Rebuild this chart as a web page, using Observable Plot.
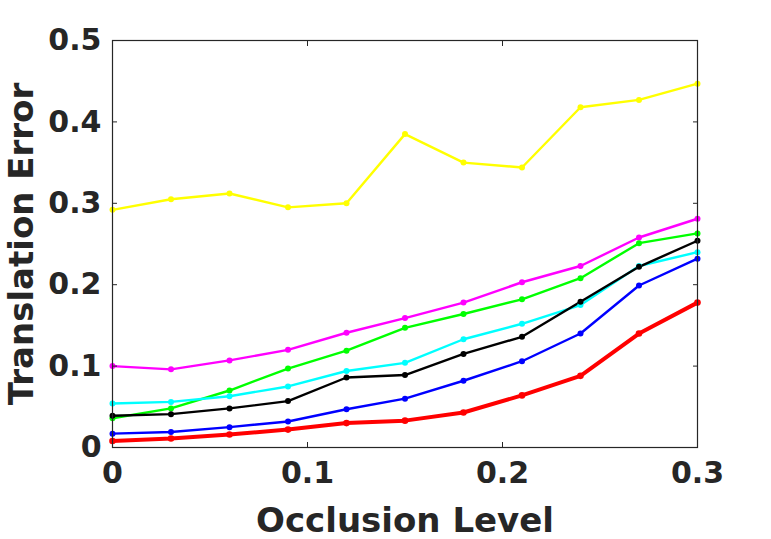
<!DOCTYPE html>
<html>
<head>
<meta charset="utf-8">
<script src="https://cdn.jsdelivr.net/npm/d3@7"></script>
<script src="https://cdn.jsdelivr.net/npm/@observablehq/plot@0.6"></script>
<style>
  html, body { margin: 0; padding: 0; background: #fff; }
  #chart { width: 771px; height: 539px; }
</style>
</head>
<body>
<div id="chart"></div>
<script>
const occlusion = [0, 0.03, 0.06, 0.09, 0.12, 0.15, 0.18, 0.21, 0.24, 0.27, 0.3];

const yellowSeries  = [0.292, 0.305, 0.312, 0.295, 0.300, 0.385, 0.350, 0.344, 0.418, 0.427, 0.447];
const magentaSeries = [0.100, 0.096, 0.107, 0.120, 0.141, 0.159, 0.178, 0.203, 0.223, 0.258, 0.281];
const greenSeries   = [0.036, 0.048, 0.070, 0.097, 0.119, 0.147, 0.164, 0.182, 0.208, 0.251, 0.263];
const cyanSeries    = [0.054, 0.056, 0.063, 0.075, 0.094, 0.104, 0.133, 0.152, 0.175, 0.223, 0.240];
const blackSeries   = [0.039, 0.041, 0.048, 0.057, 0.086, 0.089, 0.115, 0.136, 0.179, 0.222, 0.254];
const blueSeries    = [0.017, 0.019, 0.025, 0.032, 0.047, 0.060, 0.082, 0.106, 0.140, 0.199, 0.232];
const redSeries     = [0.008, 0.011, 0.016, 0.022, 0.030, 0.033, 0.043, 0.064, 0.088, 0.140, 0.178];

const xTicks = [0, 0.1, 0.2, 0.3];
const xTickLabels = ["0", "0.1", "0.2", "0.3"];
const yTicks = [0, 0.1, 0.2, 0.3, 0.4, 0.5];
const yTickLabels = ["0", "0.1", "0.2", "0.3", "0.4", "0.5"];

const series = [
  {name: "yellow", color: "#ffff00", values: yellowSeries, width: 2.4},
  {name: "magenta", color: "#ff00ff", values: magentaSeries, width: 2.4},
  {name: "green", color: "#00ff00", values: greenSeries, width: 2.4},
  {name: "cyan", color: "#00ffff", values: cyanSeries, width: 2.4},
  {name: "black", color: "#000000", values: blackSeries, width: 2.4},
  {name: "blue", color: "#0000ff", values: blueSeries, width: 2.4},
  {name: "red", color: "#ff0000", values: redSeries, width: 4}
];

const rows = series.flatMap(s => s.values.map((v, i) => ({series: s.name, color: s.color, w: s.width, x: occlusion[i], y: v})));

const ink = "#262626";
const font = "'DejaVu Sans', sans-serif";

const lineMarks = series.map(s => Plot.line(rows.filter(r => r.series === s.name), {x: "x", y: "y", stroke: s.color, strokeWidth: s.width}));
const dotMarks = series.map(s => Plot.dot(rows.filter(r => r.series === s.name), {x: "x", y: "y", fill: s.color, r: s.width > 3 ? 3.3 : 3}));

const chart = Plot.plot({
  width: 771,
  height: 539,
  marginLeft: 112,
  marginRight: 74,
  marginTop: 40,
  marginBottom: 92,
  style: {fontFamily: font, fontWeight: "bold", color: ink, background: "#fff", overflow: "visible"},
  x: {domain: [0, 0.3]},
  y: {domain: [0, 0.5]},
  marks: [
    ...lineMarks,
    ...dotMarks,
    Plot.frame({stroke: ink, strokeWidth: 1.2}),
    // inward ticks on all four sides
    Plot.axisX({ticks: xTicks, anchor: "bottom", tickSize: -5, text: null, label: null, stroke: ink}),
    Plot.axisX({ticks: xTicks, anchor: "top", tickSize: -5, text: null, label: null, stroke: ink}),
    Plot.axisY({ticks: yTicks, anchor: "left", tickSize: -5, text: null, label: null, stroke: ink}),
    Plot.axisY({ticks: yTicks, anchor: "right", tickSize: -5, text: null, label: null, stroke: ink}),
    // tick labels
    Plot.axisX({ticks: xTicks, anchor: "bottom", tickSize: 0, tickPadding: 14, tickFormat: (d, i) => xTickLabels[i], fontSize: 30, fill: ink, label: null}),
    Plot.axisY({ticks: yTicks, anchor: "left", tickSize: 0, tickPadding: 11, tickFormat: (d, i) => yTickLabels[i], fontSize: 30, fill: ink, label: null}),
    // axis titles
    Plot.text(["Occlusion Level"], {frameAnchor: "bottom", dy: 84, fontSize: 34, fill: ink, fontWeight: "bold", textAnchor: "middle", lineAnchor: "bottom"}),
    Plot.text(["Translation Error"], {frameAnchor: "left", dx: -90, rotate: -90, fontSize: 34, fill: ink, fontWeight: "bold", textAnchor: "middle", lineAnchor: "middle"})
  ]
});

document.getElementById("chart").appendChild(chart);
</script>
</body>
</html>
